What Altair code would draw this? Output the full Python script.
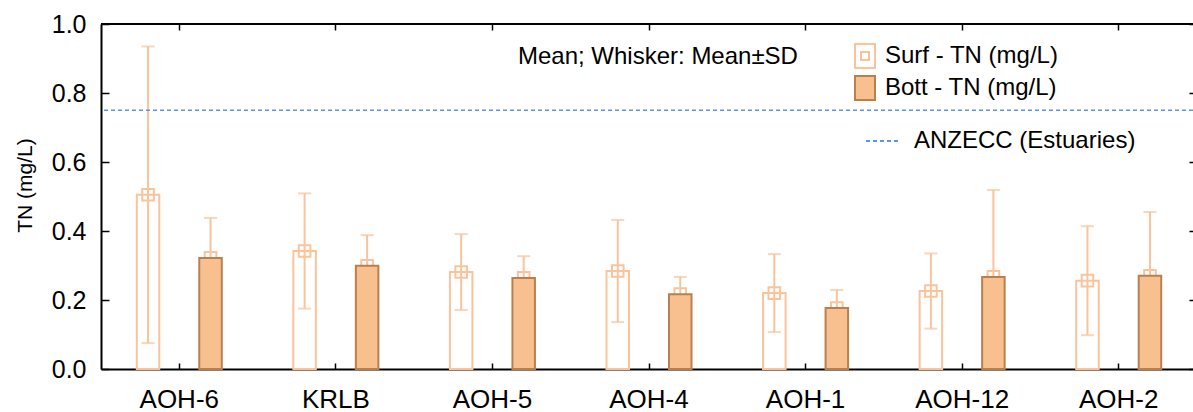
import altair as alt
import pandas as pd

# Total nitrogen by site: surface vs bottom samples (mean and standard deviation)
sites = ["AOH-6", "KRLB", "AOH-5", "AOH-4", "AOH-1", "AOH-12", "AOH-2"]
series = ["Surf - TN (mg/L)", "Bott - TN (mg/L)"]
surf_mean = [0.505, 0.342, 0.281, 0.284, 0.220, 0.226, 0.256]
surf_sd = [0.430, 0.167, 0.110, 0.148, 0.113, 0.109, 0.158]
bott_mean = [0.322, 0.299, 0.264, 0.217, 0.177, 0.267, 0.270]
bott_sd = [0.116, 0.089, 0.063, 0.050, 0.052, 0.252, 0.185]
y_ticks = [0.0, 0.2, 0.4, 0.6, 0.8, 1.0]
guideline_value = 0.75
guideline_label = "ANZECC (Estuaries)"
note_text = "Mean; Whisker: Mean±SD"
y_title = "TN (mg/L)"

FONT = "Liberation Sans"
LIGHT = "#FAC39A"
BOTT_FILL = "#F8C08F"
BOTT_EDGE = "#B8804E"
BLUE = "#5A96E3"

W, H = 1092, 345
XR = 1096  # band range runs slightly past the right edge

rows = []
for i, s in enumerate(sites):
    for name, m, sd in ((series[0], surf_mean[i], surf_sd[i]), (series[1], bott_mean[i], bott_sd[i])):
        rows.append({"site": s, "series": name, "mean": m, "lo": m - sd, "hi": m + sd})
df = pd.DataFrame(rows)

x_enc = alt.X(
    "site:N",
    sort=sites,
    title=None,
    scale=alt.Scale(domain=sites, range=[0, XR], paddingInner=0, paddingOuter=0),
    axis=alt.Axis(
        labelFontSize=26, labelFont=FONT, labelColor="black", labelAngle=0,
        labelPadding=17, ticks=False, domainColor="black", domainWidth=2,
        grid=True, gridColor="black", gridWidth=1.5, gridOpacity=1,
        gridDash=[6, H - 12, 6],
    ),
)
xo_enc = alt.XOffset(
    "series:N", sort=series,
    scale=alt.Scale(domain=series, paddingInner=0.64, paddingOuter=0.5725),
)
y_scale = alt.Scale(domain=[0, 1], nice=False, zero=True)
y_axis = alt.Axis(
    values=y_ticks, format=".1f", labelFontSize=25, labelFont=FONT,
    labelColor="black", labelPadding=15, ticks=False,
    domainColor="black", domainWidth=2,
    grid=True, gridColor="black", gridWidth=1.5, gridOpacity=1,
    gridDash=[8, XR - 16, 8],
    titleFontSize=21, titleFont=FONT, titleFontWeight="normal", titleColor="black",
    titleAngle=270, titleX=-76, titleY=161, titleAlign="center", titleBaseline="middle",
)

series_legend = alt.Legend(
    orient="none", legendX=751, legendY=19, title=None, padding=0,
    symbolSize=576, symbolStrokeWidth=2, labelFontSize=24, labelFont=FONT,
    labelColor="black", labelOffset=7, labelLimit=0, rowPadding=0,
)
fill_enc = alt.Fill("series:N", scale=alt.Scale(domain=series, range=["transparent", BOTT_FILL]), legend=series_legend)
stroke_enc = alt.Stroke("series:N", scale=alt.Scale(domain=series, range=[LIGHT, BOTT_EDGE]), legend=series_legend)

SURF_PATH = "M-0.833,-1H0.833V1H-0.833Z M-0.333,-0.333H0.333V0.333H-0.333Z"
BOTT_PATH = "M-0.833,-1H0.833V1H-0.833Z"
shape_enc = alt.Shape("series:N", scale=alt.Scale(domain=series, range=[SURF_PATH, BOTT_PATH]), legend=series_legend)

base = alt.Chart(df)

whiskers = base.mark_rule(color=LIGHT, strokeWidth=2).encode(
    x=x_enc, xOffset=xo_enc,
    y=alt.Y("lo:Q", scale=y_scale, axis=y_axis, title=y_title),
    y2="hi:Q",
)
caps = base.transform_fold(["lo", "hi"], as_=["end", "val"]).mark_tick(
    color=LIGHT, thickness=2, size=13
).encode(x=x_enc, xOffset=xo_enc, y=alt.Y("val:Q", scale=y_scale, title=y_title))

markers = base.mark_point(shape="square", size=135, filled=False, color=LIGHT, strokeWidth=2, opacity=1).encode(
    x=x_enc, xOffset=xo_enc, y=alt.Y("mean:Q", scale=y_scale, title=y_title)
)

bars = base.mark_bar(strokeWidth=2).encode(
    x=x_enc, xOffset=xo_enc,
    y=alt.Y("mean:Q", scale=y_scale, title=y_title),
    fill=fill_enc, stroke=stroke_enc,
)

ref_df = pd.DataFrame({"label": [guideline_label], "value": [guideline_value]})
ref_line = alt.Chart(ref_df).mark_rule(strokeDash=[4, 3], strokeWidth=1.5).encode(
    y=alt.Y("value:Q", scale=y_scale, title=y_title),
    color=alt.Color(
        "label:N", scale=alt.Scale(range=[BLUE]),
        legend=alt.Legend(
            orient="none", legendX=764, legendY=100, title=None, padding=0,
            symbolType="stroke", symbolSize=1024, symbolDash=[4, 3], symbolStrokeWidth=2,
            labelFontSize=24, labelFont=FONT, labelColor="black", labelOffset=15, labelLimit=0,
        ),
    ),
)

top_df = pd.DataFrame({"top": [y_ticks[-1]]})
top_edge = alt.Chart(top_df).mark_rule(color="black", strokeWidth=2).encode(
    y=alt.Y("top:Q", scale=y_scale, title=y_title)
)

note = alt.Chart(pd.DataFrame({"note": [note_text]})).mark_text(
    align="left", baseline="middle", fontSize=24, font=FONT, color="black"
).encode(x=alt.value(417), y=alt.value(33), text="note:N")

legend_keys = base.mark_point(filled=True, opacity=0).encode(
    x=x_enc, xOffset=xo_enc,
    y=alt.Y("mean:Q", scale=y_scale, title=y_title),
    fill=fill_enc, stroke=stroke_enc, shape=shape_enc,
)

chart = alt.layer(
    whiskers, caps, markers, bars, ref_line, top_edge, note, legend_keys
).properties(
    width=W, height=H,
    padding={"left": 101, "top": 24, "right": 0, "bottom": 43},
    autosize=alt.AutoSizeParams(type="none"),
    background="white",
).configure_view(stroke=None)

chart.save("out.html", embed_options={"renderer": "svg", "actions": False})
